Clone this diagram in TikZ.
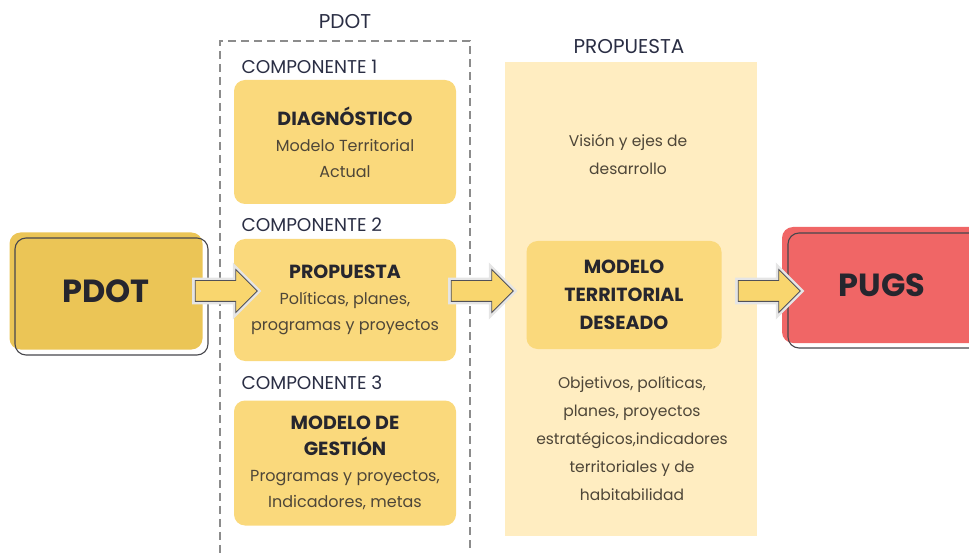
\documentclass[tikz,border=0pt]{standalone}
\usepackage{fontspec}
\setmainfont{Poppins}
\usetikzlibrary{shapes.arrows}

\definecolor{pdotgold}{RGB}{235,197,86}
\definecolor{compyellow}{RGB}{250,217,124}
\definecolor{propcream}{RGB}{255,237,193}
\definecolor{pugsred}{RGB}{240,102,102}
\definecolor{arrowfill}{RGB}{249,214,110}
\definecolor{inkdark}{RGB}{38,38,46}
\definecolor{inkbody}{RGB}{78,70,56}
\definecolor{labelnavy}{RGB}{42,46,68}

\begin{document}
\begin{tikzpicture}[x=1pt, y=-1pt,
    bigbox/.style={rounded corners=11pt, minimum width=193pt, minimum height=117pt,
        font=\fontsize{32}{36}\selectfont\bfseries, text=inkdark},
    bigline/.style={draw=inkdark!85, line width=1.1pt, rounded corners=11pt},
    compbox/.style={fill=compyellow, rounded corners=11pt, minimum width=222pt,
        minimum height=124pt, align=center, text=inkbody,
        font=\fontsize{16}{26}\selectfont},
    complabel/.style={anchor=west, font=\fontsize{18.5}{20}\selectfont, text=labelnavy},
    heading/.style={font=\fontsize{20}{22}\selectfont, text=labelnavy},
    bodytext/.style={align=center, text=inkbody, font=\fontsize{15.5}{28}\selectfont},
    blockarrow/.style={single arrow, fill=arrowfill, draw=inkdark!80, line width=0.8pt,
        minimum height=62pt, inner xsep=0pt, inner ysep=10pt,
        single arrow head extend=11pt, single arrow tip angle=90,
        preaction={draw=black!10, line width=6pt}},
]
    \useasboundingbox (0,0) rectangle (969,553);

    % dashed frame of the PDOT
    \node[draw=black!45, dash pattern=on 8pt off 5pt, line width=1.8pt,
        anchor=north west, minimum width=250pt, minimum height=530pt] (frame) at (219,40) {};
    \node[heading] (frametitle) at (345,22) {PDOT};

    % propuesta panel
    \node[fill=propcream, anchor=north west, minimum width=252pt,
        minimum height=474pt] (panel) at (505,62) {};
    \node[heading] (paneltitle) at (629,47) {PROPUESTA};

    % input and output
    \node[fill=pdotgold, bigbox] (pdot) at (106,291) {PDOT};
    \draw[bigline] (15,238) rectangle (208,355);
    \node[fill=pugsred, bigbox, minimum width=200pt, minimum height=116pt] (pugs) at (882,285) {PUGS};
    \draw[bigline] (788,233) rectangle (1000,348);

    % components
    \node[complabel] (lab1) at (238,67) {COMPONENTE 1};
    \node[compbox] (diag) at (345,142)
        {{\bfseries\fontsize{19}{28}\selectfont\color{inkdark} DIAGNÓSTICO}\\
         Modelo Territorial\\ Actual};

    \node[complabel] (lab2) at (238,225) {COMPONENTE 2};
    \node[compbox, minimum height=122pt] (prop) at (345,300)
        {{\bfseries\fontsize{19}{28}\selectfont\color{inkdark} PROPUESTA}\\
         Políticas, planes,\\ programas y proyectos};

    \node[complabel] (lab3) at (238,383) {COMPONENTE 3};
    \node[compbox, minimum height=125pt] (gest) at (345,463)
        {{\bfseries\fontsize{19}{28}\selectfont\color{inkdark} MODELO DE}\\
         {\bfseries\fontsize{19}{28}\selectfont\color{inkdark} GESTIÓN}\\
         Programas y proyectos,\\ Indicadores, metas};

    % territorial model
    \node[bodytext] (vision) at (628,154) {Visión y ejes de\\ desarrollo};
    \node[compbox, minimum width=195pt, minimum height=108pt,
        font=\fontsize{19}{28}\selectfont\bfseries, text=inkdark] (model) at (624,295)
        {MODELO\\ TERRITORIAL\\ DESEADO};
    \node[bodytext] (goals) at (632,439)
        {Objetivos, políticas,\\ planes, proyectos\\ estratégicos,indicadores\\
         territoriales y de\\ habitabilidad};

    % arrows
    \node[blockarrow] (arr1) at (221,291) {};
    \node[blockarrow] (arr2) at (477,291) {};
    \node[blockarrow] (arr3) at (764,291) {};
\end{tikzpicture}
\end{document}
